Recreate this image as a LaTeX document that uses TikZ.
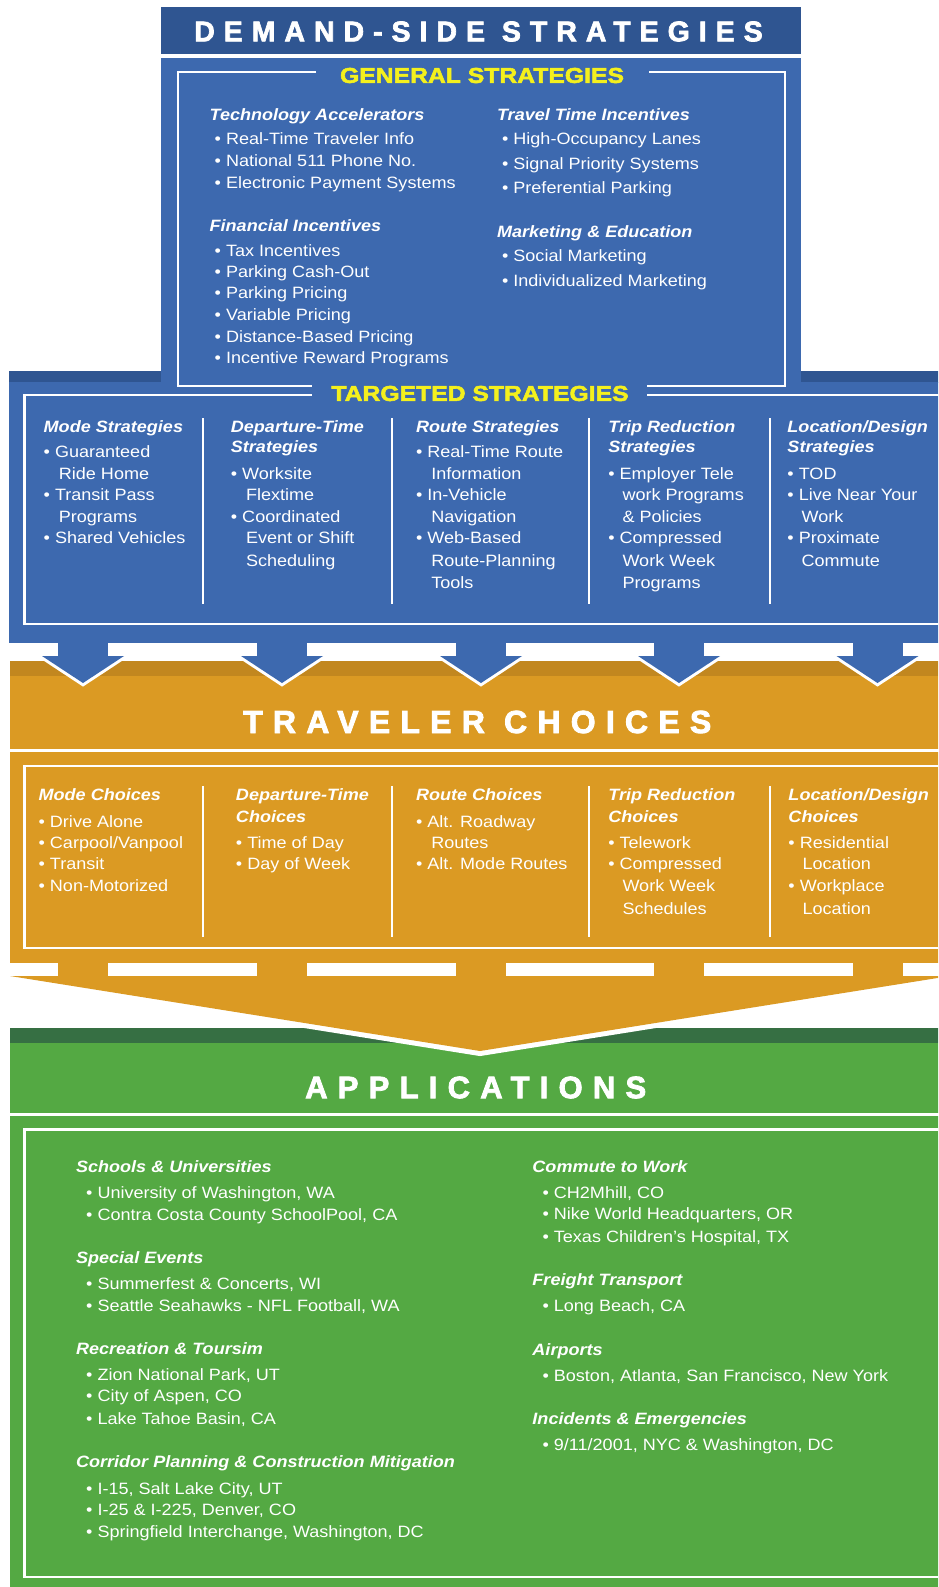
\documentclass[tikz,border=0pt]{standalone}
\usepackage{fontspec}
\setmainfont{Liberation Sans}[FakeStretch=1.1]
\newfontfamily\ttlfont{Liberation Sans}[FakeStretch=1.15, FakeBold=2.5]
\newfontfamily\bigfont{Liberation Sans}[FakeBold=2.5]
\definecolor{hdr}{HTML}{2F5591}
\definecolor{blu}{HTML}{3D69AF}
\definecolor{org}{HTML}{DB9A23}
\definecolor{orgd}{HTML}{C2871F}
\definecolor{grn}{HTML}{54A943}
\definecolor{grnd}{HTML}{366F43}
\definecolor{yel}{HTML}{F4F01D}
\newcommand\mytx[4]{\node[tx] (#1) at (#2,#3) {#4};}
\newcommand\myhd[4]{\node[hd] (#1) at (#2,#3) {#4};}
\begin{document}
\begin{tikzpicture}[x=1pt,y=-1pt,
  tx/.style={anchor=base west, inner sep=0pt, text=white, font=\fontsize{16.4}{19}\selectfont, yshift=-6.5pt},
  hd/.style={tx, font=\fontsize{16.4}{19}\selectfont\bfseries\itshape},
  ttl/.style={inner sep=0pt, text=yel, font=\ttlfont\bfseries\fontsize{21.5}{25}\selectfont},
  big/.style={anchor=west, inner sep=0pt, text=white},
  wl/.style={draw=white, line width=2.4pt},
  dl/.style={draw=white, line width=1.8pt}]
\useasboundingbox (0,0) rectangle (938,1587);
\clip (0,0) rectangle (938,1587);
% ---------- demand-side (blue) ----------
\fill[hdr] (161,7) rectangle (801,54);
\fill[hdr] (9,371) rectangle (950,383);
\fill[blu] (9,382) rectangle (950,643);
\fill[blu] (161,58) rectangle (801,390);
\draw[wl] (316,72) -- (178,72) -- (178,386) -- (312,386);
\draw[wl] (649,72) -- (785,72) -- (785,386) -- (647,386);
\draw[wl] (312,395) -- (24.5,395) -- (24.5,624) -- (960,624);
\draw[wl] (647,395) -- (960,395);
\foreach \x in {203,392,589,770} \draw[dl] (\x,418) -- (\x,604);
% ---------- traveler choices (orange) ----------
\fill[orgd] (10,661) rectangle (950,676);
\fill[org] (10,676) rectangle (950,749);
\fill[org] (10,752) rectangle (950,963);
\foreach \c in {83,282,481,679,877.5} {
  \draw[white, line width=6pt, line join=miter] (\c-41,656) -- (\c+41,656) -- (\c,683) -- cycle;
  \fill[blu] (\c-41,656) -- (\c+41,656) -- (\c,683) -- cycle;
  \fill[blu] (\c-25,640) rectangle (\c+25,657);
}
\draw[wl] (24.5,766) rectangle (960,948);
\foreach \x in {203,392,589,770} \draw[dl] (\x,786) -- (\x,937);
% ---------- applications (green) ----------
\fill[grnd] (10,1028) rectangle (950,1043);
\fill[grn] (10,1043) rectangle (950,1113);
\fill[grn] (10,1116) rectangle (950,1600);
\draw[white, line width=10pt] (10,976) -- (950,976) -- (480,1051) -- cycle;
\fill[org] (10,976) -- (950,976) -- (480,1051) -- cycle;
\foreach \c in {83,282,481,679,877.5} \fill[org] (\c-25,960) rectangle (\c+25,977);
\draw[wl] (24.5,1129.5) rectangle (960,1577);
% ---------- titles ----------
\node[big, font=\bigfont\bfseries\fontsize{28.5}{34}\selectfont\addfontfeature{LetterSpace=31.5}] (ndemand) at (194,31.5) {DEMAND-SIDE STRATEGIES};
\node[ttl] (ngeneral) at (482,75.5) {GENERAL STRATEGIES};
\node[ttl] (ntargeted) at (480,393.5) {TARGETED STRATEGIES};
\node[big, font=\bigfont\bfseries\fontsize{32}{38}\selectfont\addfontfeature{LetterSpace=32}] (ntraveler) at (243,722) {TRAVELER CHOICES};
\node[big, font=\bigfont\bfseries\fontsize{31}{38}\selectfont\addfontfeature{LetterSpace=33}] (napps) at (305,1087.5) {APPLICATIONS};
% ---------- texts (coordinates of the shrunk reference) ----------
\begin{scope}[x=1.0119pt,y=-1.0119pt]
\myhd{g1h}{207}{113}{Technology Accelerators}
\mytx{g1a}{212}{136}{• Real-Time Traveler Info}
\mytx{g1b}{212}{158}{• National 511 Phone No.}
\mytx{g1c}{212}{180}{• Electronic Payment Systems}
\myhd{g2h}{207}{222}{Financial Incentives}
\mytx{g2a}{212}{247}{• Tax Incentives}
\mytx{g2b}{212}{268}{• Parking Cash-Out}
\mytx{g2c}{212}{289}{• Parking Pricing}
\mytx{g2d}{212}{310}{• Variable Pricing}
\mytx{g2e}{212}{332}{• Distance-Based Pricing}
\mytx{g2f}{212}{353}{• Incentive Reward Programs}
\myhd{g3h}{491}{113}{Travel Time Incentives}
\mytx{g3a}{496}{136}{• High-Occupancy Lanes}
\mytx{g3b}{496}{161}{• Signal Priority Systems}
\mytx{g3c}{496}{185}{• Preferential Parking}
\myhd{g4h}{491}{228}{Marketing \& Education}
\mytx{g4a}{496}{252}{• Social Marketing}
\mytx{g4b}{496}{277}{• Individualized Marketing}
% targeted
\myhd{t1h}{43}{421}{Mode Strategies}
\mytx{t1a}{43}{446}{• Guaranteed}
\mytx{t1b}{58}{467}{Ride Home}
\mytx{t1c}{43}{488}{• Transit Pass}
\mytx{t1d}{58}{510}{Programs}
\mytx{t1e}{43}{531}{• Shared Vehicles}
\myhd{t2h}{228}{421}{Departure-Time}
\myhd{t2i}{228}{441}{Strategies}
\mytx{t2a}{228}{467}{• Worksite}
\mytx{t2b}{243}{488}{Flextime}
\mytx{t2c}{228}{510}{• Coordinated}
\mytx{t2d}{243}{531}{Event or Shift}
\mytx{t2e}{243}{553}{Scheduling}
\myhd{t3h}{411}{421}{Route Strategies}
\mytx{t3a}{411}{446}{• Real-Time Route}
\mytx{t3b}{426}{467}{Information}
\mytx{t3c}{411}{488}{• In-Vehicle}
\mytx{t3d}{426}{510}{Navigation}
\mytx{t3e}{411}{531}{• Web-Based}
\mytx{t3f}{426}{553}{Route-Planning}
\mytx{t3g}{426}{575}{Tools}
\myhd{t4h}{601}{421}{Trip Reduction}
\myhd{t4i}{601}{441}{Strategies}
\mytx{t4a}{601}{467}{• Employer Tele}
\mytx{t4b}{615}{488}{work Programs}
\mytx{t4c}{615}{510}{\& Policies}
\mytx{t4d}{601}{531}{• Compressed}
\mytx{t4e}{615}{553}{Work Week}
\mytx{t4f}{615}{575}{Programs}
\myhd{t5h}{778}{421}{Location/Design}
\myhd{t5i}{778}{441}{Strategies}
\mytx{t5a}{778}{467}{• TOD}
\mytx{t5b}{778}{488}{• Live Near Your}
\mytx{t5c}{792}{510}{Work}
\mytx{t5d}{778}{531}{• Proximate}
\mytx{t5e}{792}{553}{Commute}
% choices
\myhd{c1h}{38}{785}{Mode Choices}
\mytx{c1a}{38}{811}{• Drive Alone}
\mytx{c1b}{38}{832}{• Carpool/Vanpool}
\mytx{c1c}{38}{853}{• Transit}
\mytx{c1d}{38}{875}{• Non-Motorized}
\myhd{c2h}{233}{785}{Departure-Time}
\myhd{c2i}{233}{806}{Choices}
\mytx{c2a}{233}{832}{• Time of Day}
\mytx{c2b}{233}{853}{• Day of Week}
\myhd{c3h}{411}{785}{Route Choices}
\mytx{c3a}{411}{811}{• Alt. Roadway}
\mytx{c3b}{426}{832}{Routes}
\mytx{c3c}{411}{853}{• Alt. Mode Routes}
\myhd{c4h}{601}{785}{Trip Reduction}
\myhd{c4i}{601}{806}{Choices}
\mytx{c4a}{601}{832}{• Telework}
\mytx{c4b}{601}{853}{• Compressed}
\mytx{c4c}{615}{875}{Work Week}
\mytx{c4d}{615}{897}{Schedules}
\myhd{c5h}{779}{785}{Location/Design}
\myhd{c5i}{779}{806}{Choices}
\mytx{c5a}{779}{832}{• Residential}
\mytx{c5b}{793}{853}{Location}
\mytx{c5c}{779}{875}{• Workplace}
\mytx{c5d}{793}{897}{Location}
% applications
\myhd{a1h}{75}{1152}{Schools \& Universities}
\mytx{a1a}{85}{1178}{• University of Washington, WA}
\mytx{a1b}{85}{1200}{• Contra Costa County SchoolPool, CA}
\myhd{a2h}{75}{1242}{Special Events}
\mytx{a2a}{85}{1268}{• Summerfest \& Concerts, WI}
\mytx{a2b}{85}{1290}{• Seattle Seahawks - NFL Football, WA}
\myhd{a3h}{75}{1332}{Recreation \& Toursim}
\mytx{a3a}{85}{1358}{• Zion National Park, UT}
\mytx{a3b}{85}{1379}{• City of Aspen, CO}
\mytx{a3c}{85}{1401}{• Lake Tahoe Basin, CA}
\myhd{a4h}{75}{1444}{Corridor Planning \& Construction Mitigation}
\mytx{a4a}{85}{1470}{• I-15, Salt Lake City, UT}
\mytx{a4b}{85}{1491}{• I-25 \& I-225, Denver, CO}
\mytx{a4c}{85}{1513}{• Springfield Interchange, Washington, DC}
\myhd{a5h}{526}{1152}{Commute to Work}
\mytx{a5a}{536}{1178}{• CH2Mhill, CO}
\mytx{a5b}{536}{1199}{• Nike World Headquarters, OR}
\mytx{a5c}{536}{1221}{• Texas Children’s Hospital, TX}
\myhd{a6h}{526}{1264}{Freight Transport}
\mytx{a6a}{536}{1290}{• Long Beach, CA}
\myhd{a7h}{526}{1333}{Airports}
\mytx{a7a}{536}{1359}{• Boston, Atlanta, San Francisco, New York}
\myhd{a8h}{526}{1401}{Incidents \& Emergencies}
\mytx{a8a}{536}{1427}{• 9/11/2001, NYC \& Washington, DC}
\end{scope}
\end{tikzpicture}
\end{document}
